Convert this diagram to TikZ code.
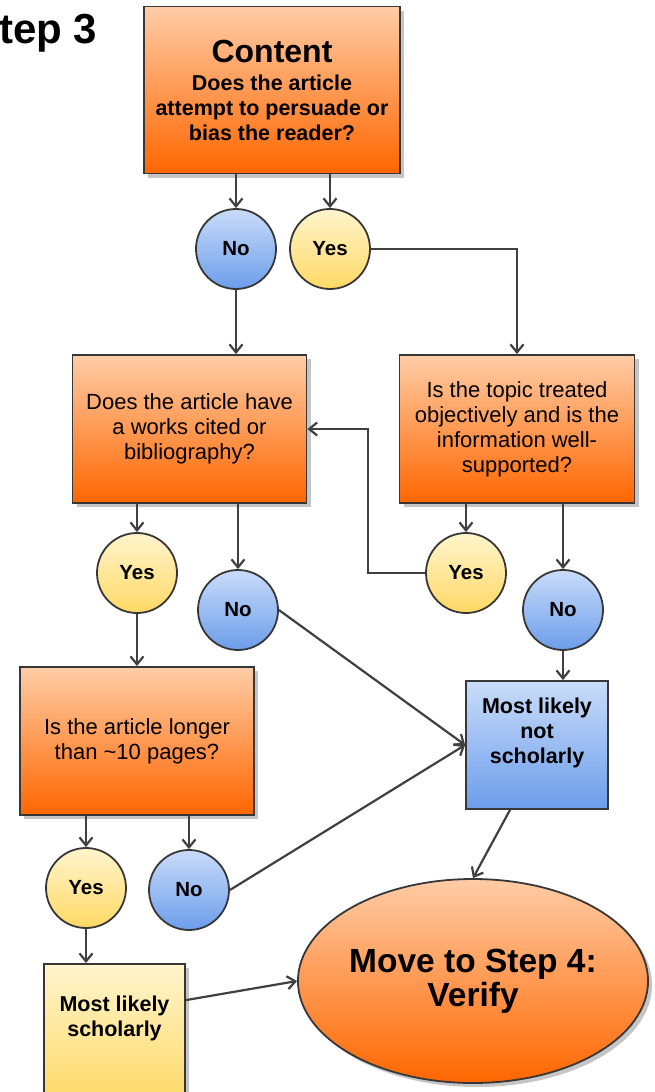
\documentclass[tikz,border=0pt]{standalone}
\usepackage{fontspec}
\setmainfont{Liberation Sans}
\usetikzlibrary{arrows.meta,shadows,shapes.geometric}
\definecolor{edge}{RGB}{55,55,55}
\definecolor{wire}{RGB}{64,64,64}
\definecolor{orangetop}{RGB}{255,204,166}
\definecolor{orangebot}{RGB}{255,102,0}
\definecolor{bluetop}{RGB}{201,220,249}
\definecolor{bluebot}{RGB}{108,157,235}
\definecolor{yellowtop}{RGB}{255,244,204}
\definecolor{yellowbot}{RGB}{255,217,102}
\tikzset{
  shadowed/.style={draw=edge, line width=1.8,
    drop shadow={shadow xshift=4pt, shadow yshift=-4pt, fill=black!45, opacity=.5}},
  qbox/.style={shadowed, rectangle, top color=orangetop, bottom color=orangebot,
    minimum width=234, minimum height=148, align=center,
    font=\fontsize{22}{25}\selectfont},
  bluebox/.style={rectangle, draw=edge, line width=1.8, top color=bluetop,
    bottom color=bluebot, minimum width=142, minimum height=128},
  yellowbox/.style={shadowed, rectangle, top color=yellowtop,
    bottom color=yellowbot, minimum width=141, minimum height=140},
  endtext/.style={align=center, inner sep=0, font=\fontsize{21.5}{25}\selectfont\bfseries},
  yescirc/.style={circle, draw=edge, line width=1.8, top color=yellowtop,
    bottom color=yellowbot, minimum size=80, inner sep=0,
    font=\fontsize{20.5}{24}\selectfont\bfseries},
  nocirc/.style={yescirc, top color=bluetop, bottom color=bluebot},
  goal/.style={shadowed, ellipse, top color=orangetop, bottom color=orangebot,
    minimum width=348, minimum height=204, align=center, inner sep=0,
    font=\fontsize{33.5}{34}\selectfont\bfseries},
  flow/.style={draw=wire, line width=2.2, -{Straight Barb[length=8pt,width=13pt]}}
}
\begin{document}
\begin{tikzpicture}[x=1pt, y=-1pt]
  \useasboundingbox (0,0) rectangle (654,1092);
  \clip (0,0) rectangle (654,1092);
  \node[anchor=base west, inner sep=0, font=\fontsize{42}{44}\selectfont\bfseries]
    (title) at (-1,43) {tep 3};

  % questions and answers
  \node[qbox, minimum width=256, minimum height=167, font=\fontsize{21.5}{25}\selectfont\bfseries]
    (content) at (272,90)
    {{\fontsize{32}{32}\selectfont Content}\\[3pt]Does the article\\attempt to persuade or\\bias the reader?};
  \node[nocirc] (no1) at (236,249) {No};
  \node[yescirc] (yes1) at (330,249) {Yes};
  \node[qbox] (ask) at (189.5,429) {Does the article have\\a works cited or\\bibliography?};
  \node[qbox, minimum width=235] (objective) at (517,429)
    {Is the topic treated\\objectively and is the\\information well-\\supported?};
  \node[yescirc] (yes2) at (137,573) {Yes};
  \node[nocirc] (no2) at (238,610) {No};
  \node[yescirc] (yes3) at (466,573) {Yes};
  \node[nocirc] (no3) at (563,610) {No};
  \node[qbox] (length) at (137,741) {Is the article longer\\than \textasciitilde10 pages?};
  \node[bluebox] (notsch) at (537,745) {};
  \node[endtext] (notschtext) at (537,733) {Most likely\\not\\scholarly};
  \node[yescirc] (yes4) at (86,888) {Yes};
  \node[nocirc] (no4) at (189,890) {No};
  \node[yellowbox] (sch) at (114.5,1034) {};
  \node[endtext] (schtext) at (114.5,1018) {Most likely\\scholarly};
  \node[goal] (next) at (473,981) {Move to Step 4:\\Verify};

  % connectors
  \draw[flow] (no1 |- content.south) -- (no1);
  \draw[flow] (yes1 |- content.south) -- (yes1);
  \draw[flow] (no1) -- (no1 |- ask.north);
  \draw[flow] (yes1) -| (objective);
  \draw[flow] (yes2 |- ask.south) -- (yes2);
  \draw[flow] (no2 |- ask.south) -- (no2);
  \draw[flow] (yes3 |- objective.south) -- (yes3);
  \draw[flow] (no3 |- objective.south) -- (no3);
  \draw[flow] (yes3) -- ++(-98,0) |- (ask);
  \draw[flow] (no2.east) -- (notsch.west);
  \draw[flow] (no3) -- (no3 |- notsch.north);
  \draw[flow] (yes2) -- (yes2 |- length.north);
  \draw[flow] (yes4 |- length.south) -- (yes4);
  \draw[flow] (no4 |- length.south) -- (no4);
  \draw[flow] (no4.east) -- (notsch.west);
  \draw[flow] ([xshift=-27pt]notsch.south) -- (next.north);
  \draw[flow] (yes4) -- (yes4 |- sch.north);
  \draw[flow] ([yshift=-37pt]sch.north east) -- (next.west);
\end{tikzpicture}
\end{document}
